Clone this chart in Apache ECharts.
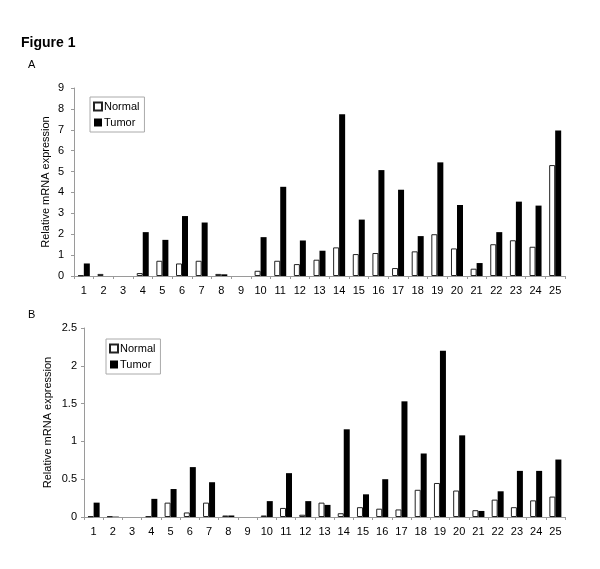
<!DOCTYPE html>
<html>
<head>
<meta charset="utf-8">
<script src="https://cdn.jsdelivr.net/npm/echarts@6/dist/echarts.min.js"></script>
<style>
  html, body { margin: 0; padding: 0; background: #fff; }
  #chart { width: 600px; height: 569px; }
</style>
</head>
<body>
<div id="chart"></div>
<script>
// 样本编号
const samples = ['1','2','3','4','5','6','7','8','9','10','11','12','13','14','15','16','17','18','19','20','21','22','23','24','25']

// A 图数据
const normalA = [0.03, 0.1, 0, 0.14, 0.73, 0.6, 0.73, 0.1, 0, 0.25, 0.73, 0.57, 0.78, 1.37, 1.05, 1.1, 0.38, 1.18, 2.0, 1.32, 0.35, 1.52, 1.71, 1.4, 5.31]
const tumorA = [0.6, 0, 0, 2.1, 1.73, 2.87, 2.56, 0.08, 0, 1.86, 4.27, 1.7, 1.21, 7.74, 2.7, 5.07, 4.13, 1.91, 5.44, 3.4, 0.62, 2.1, 3.56, 3.37, 6.97]

// B 图数据
const normalB = [0.01, 0.01, 0, 0.01, 0.19, 0.06, 0.19, 0.02, 0, 0.02, 0.12, 0.03, 0.19, 0.05, 0.13, 0.11, 0.1, 0.36, 0.45, 0.35, 0.09, 0.23, 0.13, 0.22, 0.27]
const tumorB = [0.19, 0.005, 0, 0.24, 0.37, 0.66, 0.46, 0.02, 0, 0.21, 0.58, 0.21, 0.16, 1.16, 0.3, 0.5, 1.53, 0.84, 2.2, 1.08, 0.08, 0.34, 0.61, 0.61, 0.76]

const font = 'Liberation Sans, Arial, sans-serif'
const axisGray = '#9a9a9a'

const xAxisBase = (gridIndex) => ({
  type: 'category',
  gridIndex: gridIndex,
  data: samples,
  boundaryGap: true,
  axisLine: { lineStyle: { color: axisGray, width: 1 } },
  axisTick: { show: true, alignWithLabel: false, length: 3, lineStyle: { color: axisGray } },
  axisLabel: { color: '#000', fontFamily: font, fontSize: 11, margin: 9, interval: 0 }
})

const yAxisBase = (gridIndex, max, interval, gap, margin) => ({
  type: 'value',
  gridIndex: gridIndex,
  min: 0,
  max: max,
  interval: interval,
  name: 'Relative mRNA expression',
  nameLocation: 'middle',
  nameGap: gap,
  nameMoveOverlap: false,
  nameTextStyle: { color: '#000', fontFamily: font, fontSize: 11 },
  axisLine: { show: true, lineStyle: { color: axisGray, width: 1 } },
  axisTick: { show: true, length: 3, lineStyle: { color: axisGray } },
  axisLabel: { color: '#000', fontFamily: font, fontSize: 11, margin: margin },
  splitLine: { show: false }
})

const normalStyle = { color: '#fff', borderColor: '#222', borderWidth: 1 }
const tumorStyle = { color: '#000', borderColor: '#000', borderWidth: 0 }

// 0 值不画（避免出现边框细线）
const barSeries = (name, data, idx, style) => ({
  name: name,
  type: 'bar',
  xAxisIndex: idx,
  yAxisIndex: idx,
  data: data.map(v => (v === 0 ? null : v)),
  barWidth: 6,
  barGap: '0%',
  itemStyle: style,
  emphasis: { disabled: true }
})

const legendBase = (left, top) => ({
  orient: 'vertical',
  left: left,
  top: top,
  data: ['Normal', 'Tumor'],
  icon: 'rect',
  itemWidth: 8,
  itemHeight: 8,
  itemGap: 5,
  padding: [4, 5, 4, 3],
  borderColor: '#aaa',
  borderWidth: 1,
  textStyle: { color: '#000', fontFamily: font, fontSize: 11, padding: [0, 0, 0, -3] },
  selectedMode: false
})

const option = {
  animation: false,
  backgroundColor: '#fff',
  title: [
    { text: 'Figure 1', left: 16, top: 31, textStyle: { fontFamily: font, fontSize: 14, fontWeight: 'bold', color: '#000' } },
    { text: 'A', left: 23, top: 54, textStyle: { fontFamily: font, fontSize: 11, fontWeight: 'normal', color: '#000' } },
    { text: 'B', left: 23, top: 304, textStyle: { fontFamily: font, fontSize: 11, fontWeight: 'normal', color: '#000' } }
  ],
  legend: [legendBase(90, 97), legendBase(106, 339)],
  grid: [
    { left: 74, right: 35, top: 88, height: 188 },
    { left: 84, right: 35, top: 328, height: 189 }
  ],
  xAxis: [xAxisBase(0), xAxisBase(1)],
  yAxis: [yAxisBase(0, 9, 1, 23, 10), yAxisBase(1, 2.5, 0.5, 31, 7)],
  series: [
    barSeries('Normal', normalA, 0, normalStyle),
    barSeries('Tumor', tumorA, 0, tumorStyle),
    barSeries('Normal', normalB, 1, normalStyle),
    barSeries('Tumor', tumorB, 1, tumorStyle)
  ]
}

const chart = echarts.init(document.getElementById('chart'))
chart.setOption(option)
</script>
</body>
</html>
